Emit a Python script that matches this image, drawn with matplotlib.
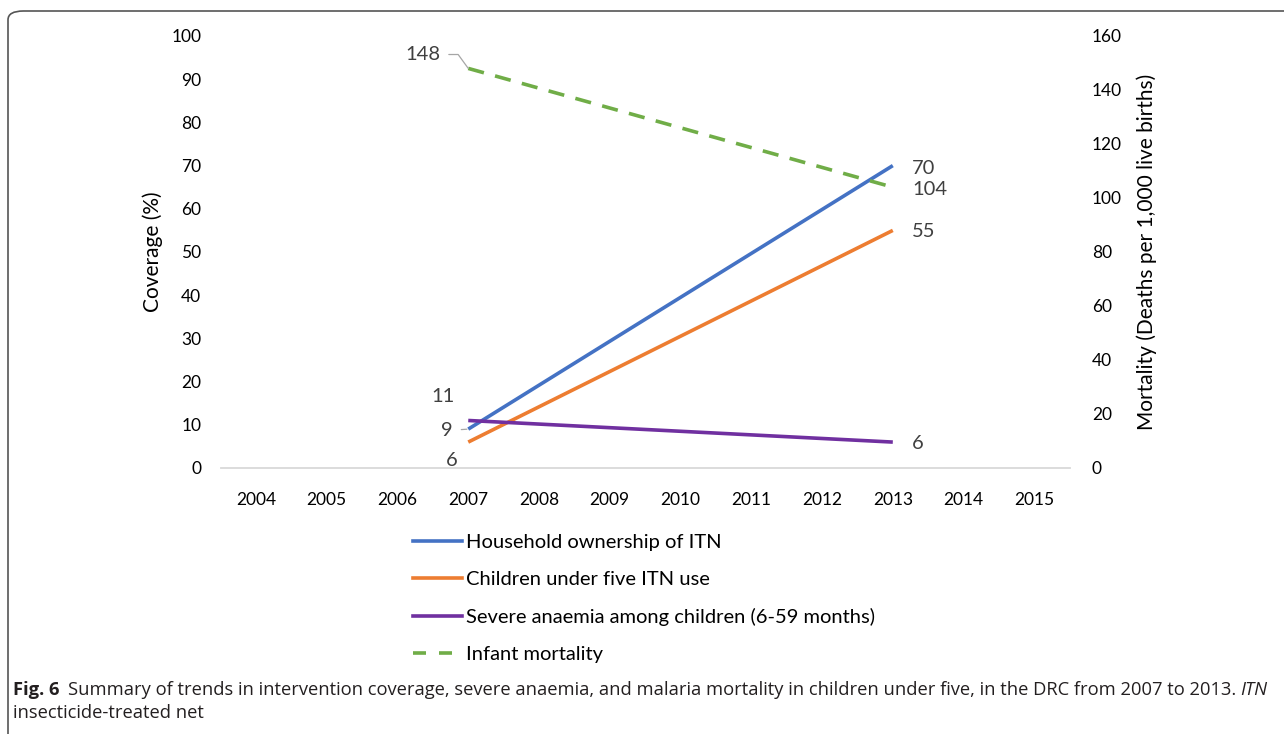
import matplotlib
matplotlib.use("Agg")
import matplotlib.pyplot as plt
from matplotlib.patches import FancyBboxPatch
from matplotlib.lines import Line2D

# ---- data ----
years = ["2004", "2005", "2006", "2007", "2008", "2009", "2010",
         "2011", "2012", "2013", "2014", "2015"]
point_years = ["2007", "2013"]
household_itn = [9, 70]
children_itn_use = [6, 55]
severe_anaemia = [11, 6]
infant_mortality = [148, 104]

series_names = ["Household ownership of ITN", "Children under five ITN use",
                "Severe anaemia among children (6-59 months)", "Infant mortality"]
colors = ["#4472C4", "#ED7D31", "#7030A0", "#70AD47"]

W, H = 1284, 734
plt.rcParams["font.family"] = ["Lato", "DejaVu Sans"]
fig = plt.figure(figsize=(W / 100, H / 100), dpi=100)

def fx(px):
    return px / W

def fy(py):
    return 1 - py / H

# outer rounded frame
frame = FancyBboxPatch((fx(8), fy(745)), fx(1300) - fx(8), fy(11) - fy(745),
                       boxstyle="round,pad=0,rounding_size=0.012",
                       transform=fig.transFigure, fill=False,
                       edgecolor="#555555", linewidth=1.2, clip_on=False)
fig.patches.append(frame)

left_px, right_px, top_px, bot_px = 220.6, 1069.7, 36, 468
ax = fig.add_axes([fx(left_px), fy(bot_px), fx(right_px) - fx(left_px), fy(top_px) - fy(bot_px)])
ax2 = ax.twinx()

xpos = {y: i for i, y in enumerate(years)}
px_years = [xpos[y] for y in point_years]

lw = 2.6
ax.plot(px_years, household_itn, color=colors[0], lw=lw, solid_capstyle="butt")
ax.plot(px_years, children_itn_use, color=colors[1], lw=lw, solid_capstyle="butt")
ax.plot(px_years, severe_anaemia, color=colors[2], lw=lw, solid_capstyle="butt")
ax2.plot(px_years, infant_mortality, color=colors[3], lw=lw, dashes=(4.5, 3.2),
         solid_capstyle="butt", dash_capstyle="butt")

ax.set_xlim(-0.5, len(years) - 0.5)
ax.set_ylim(0, 100)
ax2.set_ylim(0, 160)
ax.set_yticks(range(0, 101, 10))
ax2.set_yticks(range(0, 161, 20))
ax.set_xticks(range(len(years)))
ax.set_xticklabels(years)

for a in (ax, ax2):
    for s in a.spines.values():
        s.set_visible(False)
    a.tick_params(length=0, labelsize=12.5, colors="#000000")
ax.spines["bottom"].set_visible(True)
ax.spines["bottom"].set_color("#D9D9D9")
ax.spines["bottom"].set_linewidth(1.3)
ax.tick_params(axis="y", pad=14)
ax.tick_params(axis="x", pad=17)
ax2.tick_params(axis="y", pad=16)

ax.set_ylabel("Coverage (%)", fontsize=15, labelpad=6)
ax2.set_ylabel("Mortality (Deaths per 1,000 live births)", fontsize=15, labelpad=10)

lab_col = "#404040"
lab_fs = 14.5
i7, i13 = xpos["2007"], xpos["2013"]
# end labels at 2013
ax.annotate(f"{household_itn[1]}", (i13, household_itn[1]), xytext=(14, -2),
            textcoords="offset points", va="center", ha="left", fontsize=lab_fs, color=lab_col)
ax2.annotate(f"{infant_mortality[1]}", (i13, infant_mortality[1]), xytext=(14, -2),
             textcoords="offset points", va="center", ha="left", fontsize=lab_fs, color=lab_col)
ax.annotate(f"{children_itn_use[1]}", (i13, children_itn_use[1]), xytext=(14, -1),
            textcoords="offset points", va="center", ha="left", fontsize=lab_fs, color=lab_col)
ax.annotate(f"{severe_anaemia[1]}", (i13, severe_anaemia[1]), xytext=(14, -1),
            textcoords="offset points", va="center", ha="left", fontsize=lab_fs, color=lab_col)
# start labels at 2007
ax2.annotate(f"{infant_mortality[0]}", (i7, infant_mortality[0]), xytext=(-20, 10),
             textcoords="offset points", va="center", ha="right", fontsize=lab_fs, color=lab_col,
             arrowprops=dict(arrowstyle="-", color="#A6A6A6", lw=0.9,
                             connectionstyle="angle,angleA=0,angleB=126,rad=0",
                             shrinkA=4, shrinkB=0))
ax.annotate(f"{household_itn[0]}", (i7, household_itn[0]), xytext=(-11, -1),
            textcoords="offset points", va="center", ha="right", fontsize=lab_fs, color=lab_col,
            arrowprops=dict(arrowstyle="-", color="#A6A6A6", lw=0.9, shrinkA=4, shrinkB=1))
ax.annotate(f"{severe_anaemia[0]}", (i7, severe_anaemia[0]), xytext=(-10, 17),
            textcoords="offset points", va="center", ha="right", fontsize=lab_fs, color=lab_col)
ax.annotate(f"{children_itn_use[0]}", (i7, children_itn_use[0]), xytext=(-8, -13),
            textcoords="offset points", va="center", ha="right", fontsize=lab_fs, color=lab_col)

# legend
handles = [Line2D([], [], color=colors[0], lw=lw),
           Line2D([], [], color=colors[1], lw=lw),
           Line2D([], [], color=colors[2], lw=lw),
           Line2D([], [], color=colors[3], lw=lw, dashes=(3.6, 3.6))]
fig.legend(handles, series_names, loc="upper left",
           bbox_to_anchor=(fx(405), fy(526)), frameon=False, fontsize=14.5,
           handlelength=2.45, handletextpad=0.2, labelspacing=0.99, borderaxespad=0)

# caption
cap_y1, cap_y2 = fy(690), fy(713)
cap_font = ["Open Sans", "DejaVu Sans"]
cap_fs = 13.2
t1 = fig.text(fx(13), cap_y1, "Fig. 6", fontsize=cap_fs, fontweight="bold",
              family=cap_font, va="center", ha="left", color="#231F20")
fig.canvas.draw()
bb = t1.get_window_extent()
t2 = fig.text((bb.x1 + 8) / W, cap_y1,
              "Summary of trends in intervention coverage, severe anaemia, and malaria mortality "
              "in children under five, in the DRC from 2007 to 2013. ",
              fontsize=cap_fs, family=cap_font, va="center", ha="left", color="#231F20")
fig.canvas.draw()
bb2 = t2.get_window_extent()
fig.text(bb2.x1 / W, cap_y1, "ITN", fontsize=cap_fs, family=cap_font, style="italic",
         va="center", ha="left", color="#231F20")
fig.text(fx(13), cap_y2, "insecticide-treated net", fontsize=cap_fs, family=cap_font,
         va="center", ha="left", color="#231F20")

fig.savefig("out.png", dpi=100)
